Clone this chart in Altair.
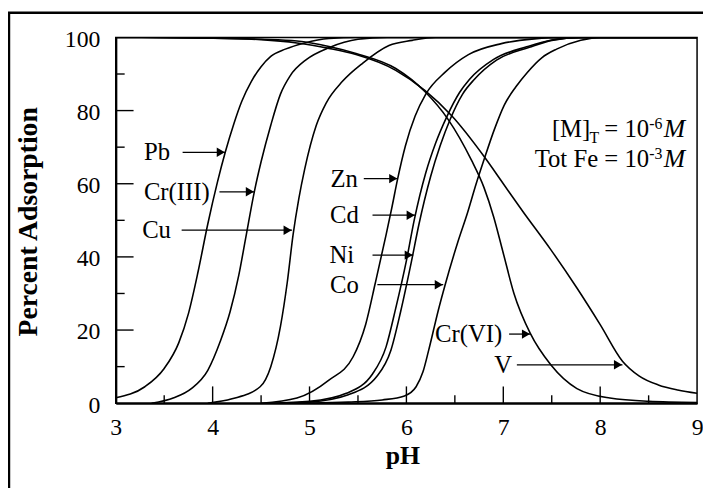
import altair as alt
import pandas as pd

FONT = "Liberation Serif"

# ---- adsorption edges (pH, percent adsorbed) ----
PB_PH = [3.0, 3.3, 3.5, 3.65, 3.75, 3.85, 3.95, 4.05, 4.13, 4.22, 4.3, 4.4, 4.5, 4.6, 4.75, 4.95, 5.2, 5.5, 9.0]
PB_PCT = [1.5, 4.5, 9.5, 16.5, 24.5, 36, 49, 60.5, 68.6, 76.5, 82.5, 88, 92, 94.8, 96.8, 98.5, 99.7, 100, 100]

CR3_PH = [3.37, 3.6, 3.78, 3.95, 4.08, 4.18, 4.27, 4.34, 4.43, 4.5, 4.6, 4.7, 4.8, 4.97, 5.2, 5.5, 5.8, 9.0]
CR3_PCT = [0, 1.5, 4, 9, 17, 25, 35, 45, 57.8, 66, 76, 84.5, 89.5, 94, 97.2, 99.5, 100, 100]

CU_PH = [3.95, 4.2, 4.49, 4.6, 4.7, 4.77, 4.83, 4.89, 4.95, 5.07, 5.17, 5.34, 5.55, 5.82, 6.06, 6.3, 9.0]
CU_PCT = [0, 1.2, 4.5, 10, 21, 33, 46, 56, 64, 76, 82, 88, 93, 97.8, 99.2, 100, 100]

ZN_PH = [4.5, 4.87, 5.2, 5.45, 5.58, 5.68, 5.79, 5.85, 5.91, 5.99, 6.09, 6.2, 6.4, 6.64, 6.98, 7.32, 7.6, 9.0]
ZN_PCT = [0, 1.4, 6.3, 12.7, 21.6, 33, 46, 53.5, 61.4, 70.4, 78.5, 84.5, 90.5, 95.3, 98.3, 99.6, 100, 100]

CD_PH = [4.6, 5.0, 5.38, 5.65, 5.79, 5.89, 6.0, 6.08, 6.2, 6.3, 6.42, 6.55, 6.65, 6.9, 7.25, 7.5, 7.8, 9.0]
CD_PCT = [0, 0.5, 2.7, 8, 15.4, 26, 39, 50, 63, 71, 78.5, 85, 88.5, 94, 97.5, 99.3, 100, 100]

NI_PH = [4.7, 5.0, 5.4, 5.7, 5.84, 5.94, 6.05, 6.13, 6.25, 6.35, 6.45, 6.58, 6.7, 6.93, 7.27, 7.5, 7.8, 9.0]
NI_PCT = [0, 0.3, 2.3, 7.5, 14.5, 25, 38.5, 49, 62, 70.5, 77.5, 84.5, 88.5, 93.8, 97.3, 99.2, 100, 100]

CO_PH = [5.0, 5.4, 5.75, 5.98, 6.1, 6.17, 6.23, 6.33, 6.4, 6.53, 6.63, 6.72, 6.8, 6.91, 7.01, 7.13, 7.25, 7.4, 7.55, 7.8, 8.0, 9.0]
CO_PCT = [0, 0.3, 0.9, 2.0, 4.5, 8.5, 14.5, 25.5, 32.4, 44, 52, 60, 66.5, 75, 81.5, 86.5, 90.5, 94.5, 96.8, 99.2, 100, 100]

CR6_PH = [3.0, 4.0, 4.5, 4.87, 5.2, 5.48, 5.89, 6.19, 6.43, 6.67, 6.8, 6.9, 7.0, 7.11, 7.28, 7.49, 7.76, 8.1, 8.5, 9.0]
CR6_PCT = [100, 99.8, 99.5, 99, 97.5, 95.6, 91.5, 85.2, 77.6, 66.5, 59, 51, 41, 30, 19, 10.5, 4, 1.4, 0.5, 0.2]

V_PH = [3.0, 4.0, 4.5, 4.87, 5.2, 5.48, 5.89, 6.19, 6.47, 6.8, 7.0, 7.2, 7.49, 7.76, 8.0, 8.23, 8.4, 8.6, 8.8, 9.0]
V_PCT = [100, 99.8, 99.4, 98.5, 97, 95.3, 91, 85.5, 78.5, 67.5, 60, 52.5, 42, 31.5, 21.5, 11.5, 7.5, 5, 3.6, 2.7]

SERIES = ["Pb", "Cr(III)", "Cu", "Zn", "Cd", "Ni", "Co", "Cr(VI)", "V"]
SERIES_PH = [PB_PH, CR3_PH, CU_PH, ZN_PH, CD_PH, NI_PH, CO_PH, CR6_PH, V_PH]
SERIES_PCT = [PB_PCT, CR3_PCT, CU_PCT, ZN_PCT, CD_PCT, NI_PCT, CO_PCT, CR6_PCT, V_PCT]

# ---- labels with arrows ----
LABEL_END_PH = [3.56, 3.97, 3.57, 5.50, 5.51, 5.46, 5.51, 6.99, 7.09]
LABEL_PCT = [68.6, 57.8, 47.3, 61.4, 51.4, 40.5, 32.4, 18.9, 10.5]
ARROW_FROM_PH = [3.69, 4.07, 3.68, 5.56, 5.65, 5.65, 5.70, 7.06, 7.14]
ARROW_TO_PH = [4.13, 4.43, 4.82, 5.91, 6.09, 6.07, 6.38, 7.28, 8.23]

# ---- condition note: [M]_T = 10^-6 M ; Tot Fe = 10^-3 M ----
NOTE_TEXT = ["[M]", "T", "= 10", "-6", "Tot Fe = 10", "-3"]
NOTE_PH = [7.898, 7.990, 8.505, 8.643, 8.505, 8.643]
NOTE_PCT = [72.7, 71.1, 72.7, 74.9, 64.6, 66.8]
NOTE_SIZE = [25, 16, 25, 16, 25, 16]
NOTE_M_PH = [8.878, 8.878]
NOTE_M_PCT = [72.7, 64.6]

X_LABELS = [3, 4, 5, 6, 7, 8, 9]
Y_LABELS = [0, 20, 40, 60, 80, 100]
X_MAJOR = [4, 5, 6, 7, 8]
X_MINOR = [3.5, 4.5, 5.5, 6.5, 7.5, 8.5]
Y_MAJOR = [20, 40, 60, 80]
Y_MINOR = [10, 30, 50, 70, 90]

W, H = 588, 370

rows = []
for name, phs, pcts in zip(SERIES, SERIES_PH, SERIES_PCT):
    for p, v in zip(phs, pcts):
        rows.append({"series": name, "pH": p, "pct": v})
curves_df = pd.DataFrame(rows)

xs = alt.Scale(domain=[3, 9], nice=False, zero=False)
ys = alt.Scale(domain=[0, 100], nice=False, zero=False)

x_axis = alt.Axis(values=X_LABELS, format="d", ticks=False, tickSize=0, grid=False,
                  labelPadding=13, labelFlush=False, labelOverlap=False,
                  title="pH", titleX=290, titleY=61, titleBaseline="alphabetic",
                  titleFontSize=26)
y_axis = alt.Axis(values=Y_LABELS, format="d", ticks=False, tickSize=0, grid=False,
                  labelPadding=16, labelFlush=False, labelOverlap=False, labelOffset=2,
                  title="Percent Adsorption", titleAngle=270, titleFontSize=28,
                  titleX=-88, titleY=186, titleAlign="center", titleBaseline="middle")

curves = alt.Chart(curves_df).mark_line(
    color="black", strokeWidth=1.6, interpolate="monotone", clip=True
).encode(
    x=alt.X("pH:Q", scale=xs, axis=x_axis),
    y=alt.Y("pct:Q", scale=ys, axis=y_axis),
    detail="series:N",
    order="pH:Q",
)

xmaj = alt.Chart(pd.DataFrame({"pH": X_MAJOR})).mark_rule(color="black", strokeWidth=1.4).encode(
    x=alt.X("pH:Q", scale=xs), y=alt.value(H), y2=alt.value(H - 17))
xmin = alt.Chart(pd.DataFrame({"pH": X_MINOR})).mark_rule(color="black", strokeWidth=1.4).encode(
    x=alt.X("pH:Q", scale=xs), y=alt.value(H), y2=alt.value(H - 8))
ymaj = alt.Chart(pd.DataFrame({"pct": Y_MAJOR})).mark_rule(color="black", strokeWidth=1.4).encode(
    y=alt.Y("pct:Q", scale=ys), x=alt.value(0), x2=alt.value(18))
ymin = alt.Chart(pd.DataFrame({"pct": Y_MINOR})).mark_rule(color="black", strokeWidth=1.4).encode(
    y=alt.Y("pct:Q", scale=ys), x=alt.value(0), x2=alt.value(9))

lab_df = pd.DataFrame({"label": SERIES, "pH": LABEL_END_PH, "pct": LABEL_PCT})
labels = alt.Chart(lab_df).mark_text(
    align="right", baseline="middle", font=FONT, fontSize=25, color="black"
).encode(x=alt.X("pH:Q", scale=xs), y=alt.Y("pct:Q", scale=ys), text="label:N")

arr_df = pd.DataFrame({"pH": ARROW_FROM_PH, "pH2": ARROW_TO_PH, "pct": LABEL_PCT})
shafts = alt.Chart(arr_df).mark_rule(color="black", strokeWidth=1.3).encode(
    x=alt.X("pH:Q", scale=xs), x2="pH2:Q", y=alt.Y("pct:Q", scale=ys))

head_df = pd.DataFrame({"pH": ARROW_TO_PH, "pct": LABEL_PCT})
heads = alt.Chart(head_df).mark_point(
    shape="triangle-right", filled=True, size=90, color="black", opacity=1, xOffset=-4.5
).encode(x=alt.X("pH:Q", scale=xs), y=alt.Y("pct:Q", scale=ys))

note_df = pd.DataFrame({"t": NOTE_TEXT, "pH": NOTE_PH, "pct": NOTE_PCT, "fs": NOTE_SIZE})
note = alt.Chart(note_df).mark_text(
    align="right", baseline="alphabetic", font=FONT, color="black"
).encode(x=alt.X("pH:Q", scale=xs), y=alt.Y("pct:Q", scale=ys), text="t:N",
         size=alt.Size("fs:Q", scale=None))
note_m = alt.Chart(pd.DataFrame({"pH": NOTE_M_PH, "pct": NOTE_M_PCT, "t": ["M", "M"]})).mark_text(
    align="right", baseline="alphabetic", font=FONT, fontSize=26, fontStyle="italic", color="black"
).encode(x=alt.X("pH:Q", scale=xs), y=alt.Y("pct:Q", scale=ys), text="t:N")

frame = alt.Chart(pd.DataFrame({"a": [0]})).mark_rect(
    filled=False, stroke="black", strokeWidth=2.5
).encode(x=alt.value(-108), x2=alt.value(640), y=alt.value(-25), y2=alt.value(500))

chart = alt.layer(
    curves, xmaj, xmin, ymaj, ymin, shafts, heads, labels, note, note_m, frame
).properties(
    width=W, height=H,
    autosize=alt.AutoSizeParams(type="none"),
    padding={"left": 109, "top": 27, "right": 6, "bottom": 83},
    background="white",
).configure_view(
    stroke="black", strokeWidth=1.5
).configure_axis(
    labelFont=FONT, labelFontSize=24, labelColor="black",
    titleFont=FONT, titleFontWeight="bold", titleColor="black",
    domainColor="black", domainWidth=2.2, ticks=False, grid=False,
)

chart.save("out.html", embed_options={"renderer": "svg", "actions": False})
